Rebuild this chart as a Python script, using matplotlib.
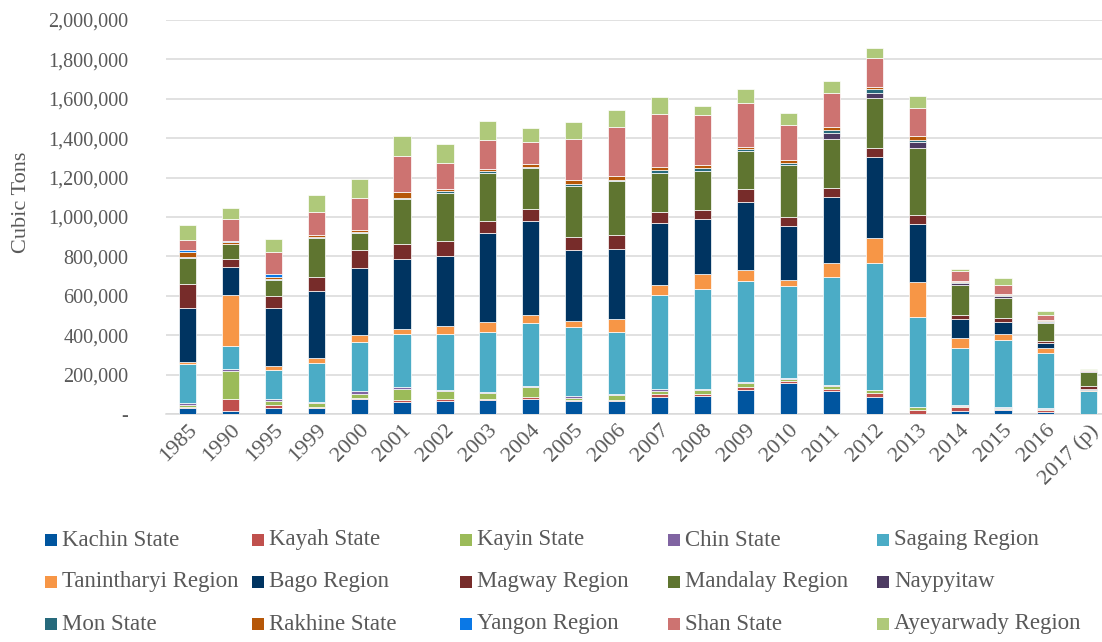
import numpy as np
import matplotlib
matplotlib.use('Agg')
import matplotlib.pyplot as plt
from matplotlib.patches import Rectangle
from matplotlib.ticker import FuncFormatter

plt.rcParams['font.family'] = ['Liberation Serif', 'DejaVu Serif']

YEARS = ['1985', '1990', '1995', '1999', '2000', '2001', '2002', '2003', '2004', '2005', '2006',
         '2007', '2008', '2009', '2010', '2011', '2012', '2013', '2014', '2015', '2016', '2017 (p)']

# thousand cubic tons
kachin = [30, 15, 30, 30, 74, 63, 66, 73, 76, 68, 68, 86, 90, 122, 157, 117, 88, 0, 15, 19, 8, 0]
kayah = [8, 61, 14, 5, 8, 7, 10, 5, 10, 3, 5, 14, 10, 14, 10, 12, 17, 22, 19, 7, 14, 0]
kayin = [10, 142, 22, 20, 17, 58, 39, 27, 49, 10, 24, 17, 24, 19, 10, 12, 15, 15, 5, 3, 3, 0]
chin = [8, 12, 10, 8, 20, 7, 7, 8, 5, 8, 5, 8, 5, 8, 8, 8, 3, 0, 8, 8, 3, 0]
sagaing = [198, 115, 146, 198, 245, 272, 284, 305, 320, 352, 315, 479, 506, 513, 464, 547, 641, 454, 286, 337, 281, 115]
tanintharyi = [10, 257, 20, 24, 39, 27, 41, 47, 44, 30, 64, 51, 74, 54, 30, 69, 129, 178, 54, 32, 27, 7]
bago = [274, 144, 296, 338, 337, 355, 355, 453, 474, 360, 357, 315, 279, 347, 274, 335, 414, 293, 93, 59, 22, 3]
magway = [122, 41, 61, 71, 93, 73, 78, 64, 63, 68, 69, 56, 47, 63, 49, 49, 42, 47, 24, 20, 14, 19]
mandalay = [132, 74, 83, 200, 85, 228, 240, 240, 208, 257, 276, 198, 201, 195, 261, 245, 253, 342, 151, 105, 90, 71]
naypyitaw = [0, 0, 0, 0, 0, 0, 0, 0, 0, 0, 0, 0, 0, 0, 0, 32, 29, 29, 10, 8, 5, 5]
mon = [3, 3, 3, 3, 5, 8, 10, 10, 7, 12, 7, 14, 14, 8, 12, 15, 17, 12, 7, 5, 3, 0]
rakhine = [25, 10, 8, 14, 10, 29, 14, 14, 14, 19, 19, 17, 14, 14, 15, 15, 13, 19, 5, 7, 5, 0]
yangon = [12, 5, 17, 0, 0, 0, 0, 0, 0, 0, 0, 0, 0, 0, 0, 0, 0, 0, 0, 0, 0, 0]
shan = [52, 110, 112, 112, 162, 183, 130, 147, 112, 208, 250, 269, 252, 223, 176, 173, 148, 141, 47, 47, 27, 5]
ayeyarwady = [76, 59, 64, 90, 97, 102, 96, 93, 68, 86, 83, 86, 46, 69, 64, 61, 50, 61, 12, 32, 19, 5]

SERIES = [
    ('Kachin State', kachin, '#00559F'),
    ('Kayah State', kayah, '#C0504D'),
    ('Kayin State', kayin, '#9BBB59'),
    ('Chin State', chin, '#8064A2'),
    ('Sagaing Region', sagaing, '#4BACC6'),
    ('Tanintharyi Region', tanintharyi, '#F79646'),
    ('Bago Region', bago, '#003461'),
    ('Magway Region', magway, '#772C2A'),
    ('Mandalay Region', mandalay, '#5F7530'),
    ('Naypyitaw', naypyitaw, '#4D3B62'),
    ('Mon State', mon, '#276A7C'),
    ('Rakhine State', rakhine, '#B65708'),
    ('Yangon Region', yangon, '#0A78E6'),
    ('Shan State', shan, '#CD7371'),
    ('Ayeyarwady Region', ayeyarwady, '#AFC97A'),
]

W, H = 1102, 642
TXT = '#595959'

fig = plt.figure(figsize=(W / 100, H / 100), dpi=100)
ax = fig.add_axes([166 / W, 1 - 414 / H, (W - 166) / W, (414 - 20) / H])

x = np.arange(len(YEARS))
bottom = np.zeros(len(YEARS))
for name, vals, color in SERIES:
    v = np.array(vals) * 1000.0
    ax.bar(x, v, 0.40, bottom=bottom, color=color, edgecolor='white', linewidth=0.5, zorder=3)
    bottom += v

ax.set_xlim(-0.5, -0.5 + (W - 166) / 42.92)
ax.set_ylim(0, 2000000)
ax.set_yticks(np.arange(0, 2000001, 200000))
ax.yaxis.set_major_formatter(FuncFormatter(lambda v, p: '-' if v == 0 else f'{int(v):,}'))
ax.grid(axis='y', color='#D9D9D9', linewidth=1.1, zorder=0)
for s in ['top', 'right', 'left']:
    ax.spines[s].set_visible(False)
ax.spines['bottom'].set_color('#D9D9D9')
ax.spines['bottom'].set_linewidth(1.1)
ax.tick_params(axis='y', length=0, pad=27, labelsize=14.5, labelcolor=TXT)
ax.tick_params(axis='x', length=0, pad=5, labelsize=16, labelcolor=TXT)
ax.set_xticks(x)
ax.set_xticklabels(YEARS, rotation=45, ha='right', va='top', rotation_mode='anchor')

fig.text(22 / W, 1 - 202 / H, 'Cubic Tons', rotation=90, ha='center', va='center',
         fontsize=16, color=TXT)

# legend, 3 rows x 5 equal columns, as in the original
col_x = [45, 252, 460, 668, 877]
row_y = [540, 582, 624]
for i, (name, vals, color) in enumerate(SERIES):
    cx = col_x[i % 5]
    cy = row_y[i // 5]
    fig.add_artist(Rectangle((cx / W, 1 - (cy + 6) / H), 12 / W, 12 / H,
                             transform=fig.transFigure, facecolor=color, edgecolor='none'))
    fig.text((cx + 17) / W, 1 - cy / H, name, ha='left', va='center', fontsize=16.5, color=TXT)

fig.savefig('out.png', dpi=100, facecolor='white')
